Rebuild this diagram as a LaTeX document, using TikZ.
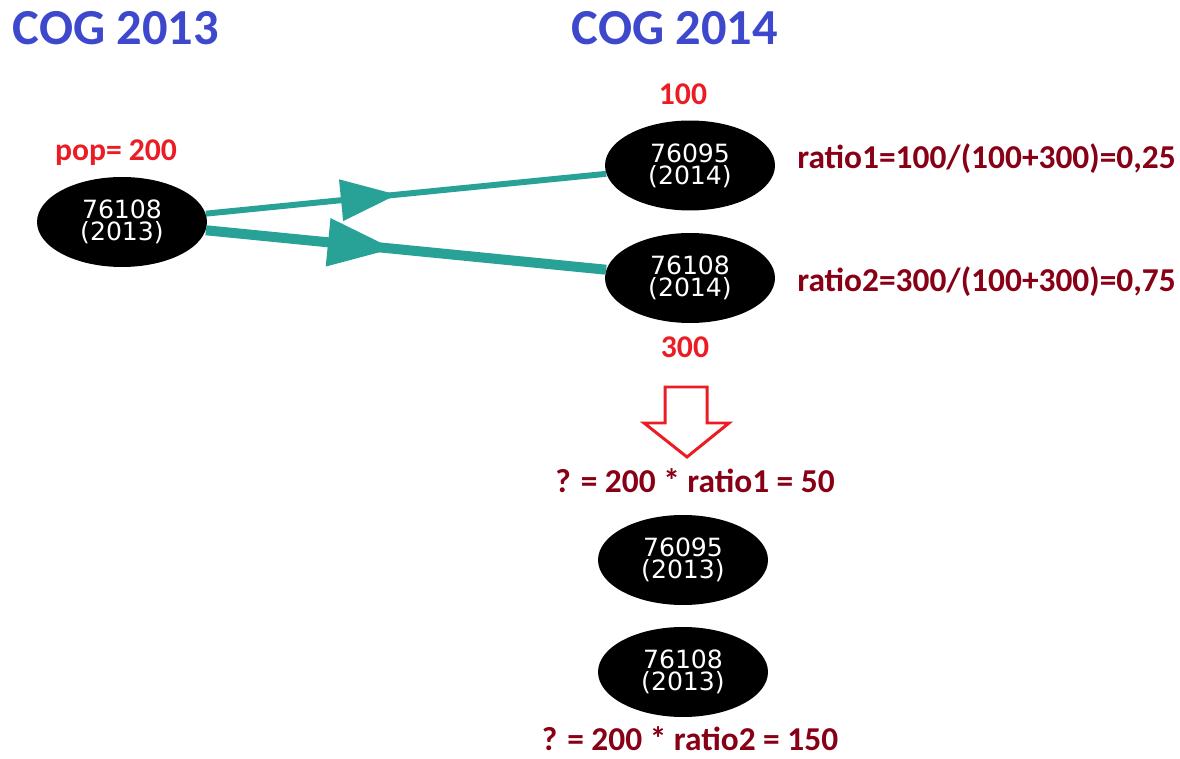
\documentclass[tikz,border=0pt]{standalone}
\usepackage{fontspec}
\setmainfont{Carlito}
\newfontfamily\idfont{DejaVu Sans}
\usetikzlibrary{shapes.geometric,decorations.markings,arrows.meta}

\definecolor{cogblue}{RGB}{62,72,204}
\definecolor{popred}{RGB}{236,28,36}
\definecolor{ratiored}{RGB}{136,0,21}
\definecolor{flowteal}{RGB}{40,162,150}

\tikzset{
  commune/.style={ellipse, fill=black, minimum width=3.4cm, minimum height=1.8cm,
    inner sep=0pt, text=white, align=center,
    font=\idfont\fontsize{14.3}{12.6}\selectfont},
  cogtitle/.style={text=cogblue, inner sep=0pt, font=\bfseries\fontsize{28.7}{30}\selectfont},
  popcount/.style={text=popred, inner sep=0pt, font=\bfseries\fontsize{18}{20}\selectfont},
  ratiotext/.style={text=ratiored, inner sep=0pt, font=\bfseries\fontsize{19}{21}\selectfont},
  flow/.style n args={3}{draw=flowteal, line width=#1, postaction={decorate},
    decoration={markings, mark=at position #2 with {\arrow[flowteal]{Triangle[length=#3, width=0.75*#3, line width=0pt]}}}},
}

\begin{document}
\begin{tikzpicture}[x=0.02cm, y=-0.02cm]
  \useasboundingbox (0,0) rectangle (1180,759);

  % Titles
  \node[cogtitle] (t13) at (116,28) {COG 2013};
  \node[cogtitle] (t14) at (675,28) {COG 2014};

  % Communes 2013 -> 2014
  \node[commune] (a) at (122,222) {76108\\(2013)};
  \node[commune] (b) at (690,165.5) {76095\\(2014)};
  \node[commune] (c) at (690,278) {76108\\(2014)};

  % Populations
  \node[popcount, anchor=base] (pop) at (116,161) {pop= 200};
  \node[popcount] (pb) at (683,94) {100};
  \node[popcount] (pc) at (685,347) {300};

  % Flows
  \draw[flow={3.4pt}{0.477}{1.12cm}] (a) -- (b);
  \draw[flow={5.7pt}{0.467}{1.3cm}] (a) -- (c);

  % Ratios
  \node[ratiotext, anchor=base west] (r1) at (797,169) {ratio1=100/(100+300)=0,25};
  \node[ratiotext, anchor=base west] (r2) at (797,292) {ratio2=300/(100+300)=0,75};

  % Hollow arrow
  \draw[popred, line width=1.7pt, line join=miter]
    (665,387) -- (707,387) -- (707,423) -- (729,423) -- (687,457)
    -- (644,423) -- (665,423) -- cycle;

  % Communes 2013 after split
  \node[ratiotext, anchor=base] (q1) at (695,493) {? = 200 * ratio1 = 50};
  \node[commune] (d) at (683,560) {76095\\(2013)};
  \node[commune] (e) at (683,672) {76108\\(2013)};
  \node[ratiotext, anchor=base] (q2) at (690,750) {? = 200 * ratio2 = 150};
\end{tikzpicture}
\end{document}
